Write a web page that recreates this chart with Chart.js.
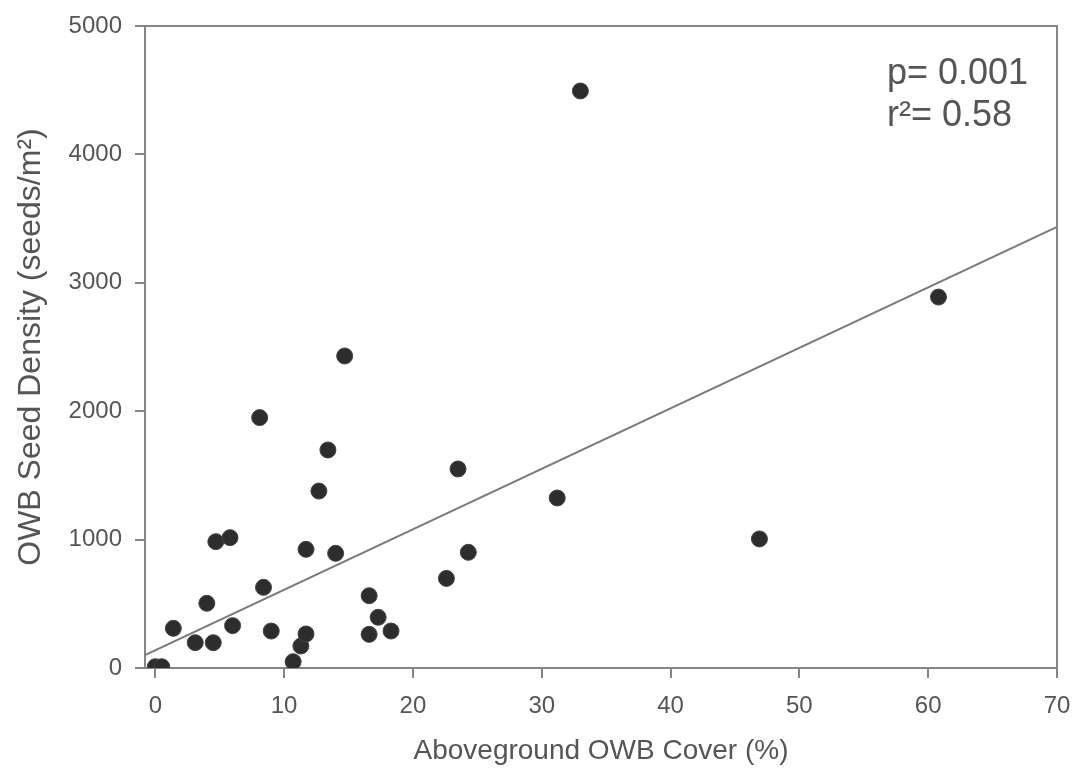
<!DOCTYPE html>
<html>
<head>
<meta charset="utf-8">
<script src="https://cdn.jsdelivr.net/npm/chart.js@4/dist/chart.umd.min.js"></script>
<style>
  html, body { margin: 0; padding: 0; background: #fff; }
  #wrap { width: 1072px; height: 768px; }
</style>
</head>
<body>
<div id="wrap"><canvas id="chart" width="1072" height="768"></canvas></div>
<script>
// values
const coverPct = [0, 0.5, 1.4, 3.1, 4.0, 4.5, 4.7, 5.8, 6.0, 8.1, 8.4, 9.0, 10.7, 11.3, 11.7, 11.7,
  12.7, 13.4, 14.0, 14.7, 16.6, 16.6, 17.3, 18.3, 22.6, 23.5, 24.3, 31.2, 33.0, 46.9, 60.8];
const seedDensity = [10, 10, 309, 197, 504, 197, 984, 1015, 330, 1950, 628, 288, 49, 171, 265, 924,
  1378, 1698, 893, 2430, 563, 262, 395, 288, 698, 1550, 901, 1324, 4494, 1005, 2889];

// regression line end points
const fitX = [-0.8, 70];
const fitY = [100, 3435];

const xTicks = [0, 10, 20, 30, 40, 50, 60, 70];
const yTicks = [0, 1000, 2000, 3000, 4000, 5000];

const statLines = ["p= 0.001", "r\u00B2= 0.58"];

const axisGray = "#858585";
const textGray = "#555";

const framePlugin = {
  id: "frame",
  afterDraw(chart) {
    const { ctx, chartArea: a } = chart;
    ctx.save();
    ctx.strokeStyle = axisGray;
    ctx.lineWidth = 2;
    ctx.beginPath();
    ctx.moveTo(a.left, a.top);
    ctx.lineTo(a.right, a.top);
    ctx.lineTo(a.right, a.bottom);
    ctx.stroke();

    // p / r2 text
    ctx.fillStyle = textGray;
    ctx.font = "36px 'Liberation Sans', Arial, sans-serif";
    ctx.textAlign = "left";
    ctx.textBaseline = "alphabetic";
    statLines.forEach((t, i) => {
      ctx.fillText(t, a.right - 170, a.top + 58 + i * 42);
    });
    ctx.restore();
  }
};

Chart.defaults.font.family = "'Liberation Sans', Arial, sans-serif";
Chart.defaults.color = textGray;

new Chart(document.getElementById("chart"), {
  type: "scatter",
  data: {
    datasets: [
      {
        label: "fit",
        type: "line",
        data: fitX.map((x, i) => ({ x: x, y: fitY[i] })),
        borderColor: "#7a7a7a",
        borderWidth: 2,
        pointRadius: 0,
        fill: false,
        order: 2
      },
      {
        label: "sites",
        data: coverPct.map((x, i) => ({ x: x, y: seedDensity[i] })),
        backgroundColor: "#2d2d2d",
        borderColor: "#444",
        borderWidth: 1,
        pointRadius: 8,
        order: 1
      }
    ]
  },
  options: {
    responsive: false,
    animation: false,
    layout: { padding: { top: 26, right: 15, left: 12, bottom: 0 } },
    plugins: {
      legend: { display: false },
      tooltip: { enabled: false }
    },
    scales: {
      x: {
        type: "linear",
        min: -0.8,
        max: 70,
        afterBuildTicks: (s) => { s.ticks = xTicks.map(v => ({ value: v })); },
        afterFit: (s) => { s.height = 100; s.paddingLeft = 0; s.paddingRight = 0; },
        ticks: { font: { size: 24 }, padding: 14, color: textGray, callback: (v) => String(v) },
        grid: { drawOnChartArea: false, drawTicks: true, tickLength: 10, color: axisGray, lineWidth: 2 },
        border: { color: axisGray, width: 2 },
        title: {
          display: true,
          text: "Aboveground OWB Cover (%)",
          font: { size: 28 },
          color: textGray,
          padding: 0
        }
      },
      y: {
        type: "linear",
        min: 0,
        max: 5000,
        afterBuildTicks: (s) => { s.ticks = yTicks.map(v => ({ value: v })); },
        afterFit: (s) => { s.width = 133; s.paddingTop = 0; s.paddingBottom = 0; },
        ticks: { font: { size: 24 }, padding: 13, color: textGray, callback: (v) => String(v) },
        grid: { drawOnChartArea: false, drawTicks: true, tickLength: 10, color: axisGray, lineWidth: 2 },
        border: { color: axisGray, width: 2 },
        title: {
          display: true,
          text: "OWB Seed Density (seeds/m\u00B2)",
          font: { size: 32 },
          color: textGray,
          padding: 0
        }
      }
    }
  },
  plugins: [framePlugin]
});
</script>
</body>
</html>
